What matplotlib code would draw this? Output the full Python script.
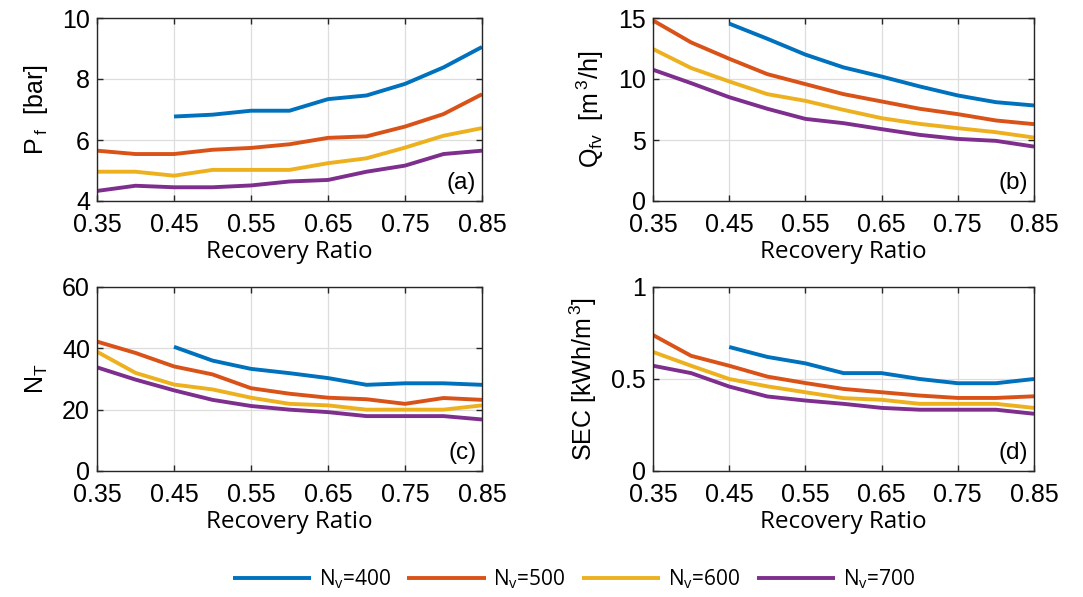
import numpy as np
import matplotlib
matplotlib.use("Agg")
import matplotlib.pyplot as plt

recovery = [0.35, 0.40, 0.45, 0.50, 0.55, 0.60, 0.65, 0.70, 0.75, 0.80, 0.85]
recovery_400 = recovery[2:]
xticks = [0.35, 0.45, 0.55, 0.65, 0.75, 0.85]
xticklabels = ["0.35", "0.45", "0.55", "0.65", "0.75", "0.85"]

labels = ["N$_\\mathregular{v}$=400", "N$_\\mathregular{v}$=500",
          "N$_\\mathregular{v}$=600", "N$_\\mathregular{v}$=700"]
colors = ["#0072BD", "#D95319", "#EDB120", "#7E2F8E"]

# (a) feed pressure [bar]
pf_400 = [6.77, 6.83, 6.96, 6.96, 7.34, 7.46, 7.84, 8.38, 9.05]
pf_500 = [5.65, 5.54, 5.54, 5.68, 5.74, 5.86, 6.07, 6.12, 6.44, 6.85, 7.50]
pf_600 = [4.96, 4.96, 4.83, 5.02, 5.02, 5.02, 5.24, 5.40, 5.75, 6.14, 6.39]
pf_700 = [4.33, 4.50, 4.45, 4.45, 4.51, 4.64, 4.69, 4.96, 5.16, 5.54, 5.65]

# (b) feed flow per vessel [m3/h]
qfv_400 = [14.54, 13.3, 12.0, 10.95, 10.2, 9.39, 8.65, 8.1, 7.83]
qfv_500 = [14.8, 13.0, 11.66, 10.4, 9.58, 8.76, 8.16, 7.56, 7.12, 6.6, 6.3]
qfv_600 = [12.46, 10.9, 9.8, 8.76, 8.21, 7.47, 6.79, 6.32, 5.97, 5.64, 5.2]
qfv_700 = [10.76, 9.66, 8.51, 7.56, 6.73, 6.38, 5.89, 5.42, 5.09, 4.93, 4.46]

# (c) number of trains
nt_400 = [40.5, 36.0, 33.3, 31.9, 30.3, 28.1, 28.6, 28.6, 28.1]
nt_500 = [42.2, 38.5, 34.1, 31.5, 27.0, 25.2, 23.9, 23.4, 21.9, 23.8, 23.2]
nt_600 = [38.9, 32.0, 28.2, 26.6, 23.9, 21.9, 21.4, 20.0, 20.0, 20.0, 21.4]
nt_700 = [33.8, 29.8, 26.3, 23.2, 21.2, 20.0, 19.2, 17.9, 17.9, 17.9, 16.8]

# (d) specific energy consumption [kWh/m3]
sec_400 = [0.674, 0.62, 0.585, 0.532, 0.532, 0.50, 0.477, 0.477, 0.50]
sec_500 = [0.739, 0.626, 0.572, 0.513, 0.478, 0.446, 0.428, 0.41, 0.397, 0.397, 0.406]
sec_600 = [0.647, 0.572, 0.50, 0.46, 0.428, 0.396, 0.387, 0.365, 0.365, 0.365, 0.343]
sec_700 = [0.572, 0.532, 0.459, 0.405, 0.383, 0.365, 0.343, 0.333, 0.333, 0.333, 0.311]

W, H = 1083, 597
fig = plt.figure(figsize=(W / 100, H / 100), dpi=100)

tick_font = "Liberation Sans"
label_font = "Open Sans"

def make_axes(l, r, t, b):
    return fig.add_axes([l / W, 1 - b / H, (r - l) / W, (b - t) / H])

panels = [
    (make_axes(97, 482, 18, 201), [pf_400, pf_500, pf_600, pf_700], (4, 10), [4, 6, 8, 10], ["4", "6", "8", "10"],
     "P$\\,_\\mathregular{f}$  [bar]", "(a)"),
    (make_axes(653, 1034, 18, 201), [qfv_400, qfv_500, qfv_600, qfv_700], (0, 15), [0, 5, 10, 15], ["0", "5", "10", "15"],
     "Q$_\\mathregular{fv}$  [m$^\\mathregular{\\,3}$/h]", "(b)"),
    (make_axes(97, 482, 287, 471), [nt_400, nt_500, nt_600, nt_700], (0, 60), [0, 20, 40, 60], ["0", "20", "40", "60"],
     "N$_\\mathregular{T}$", "(c)"),
    (make_axes(653, 1034, 287, 471), [sec_400, sec_500, sec_600, sec_700], (0, 1), [0, 0.5, 1], ["0", "0.5", "1"],
     "SEC [kWh/m$^\\mathregular{\\,3}$]", "(d)"),
]

handles = []
for ax, series, ylim, yt, ytl, ylabel, tag in panels:
    for i, (vals, c) in enumerate(zip(series, colors)):
        xs = recovery_400 if i == 0 else recovery
        h, = ax.plot(xs, vals, color=c, lw=2.8, solid_capstyle="butt")
        if tag == "(a)":
            handles.append(h)
    ax.set_xlim(0.35, 0.85)
    ax.set_ylim(*ylim)
    ax.set_xticks(xticks)
    ax.set_xticklabels(xticklabels, fontfamily=tick_font, fontsize=18)
    ax.set_yticks(yt)
    ax.set_yticklabels(ytl, fontfamily=tick_font, fontsize=18)
    ax.tick_params(direction="in", length=4, width=1, top=True, right=True,
                   colors="#262626", labelcolor="black")
    ax.tick_params(axis="x", pad=9)
    ax.tick_params(axis="y", pad=5)
    ax.grid(True, color="#dddddd", lw=0.9)
    ax.set_axisbelow(True)
    for s in ax.spines.values():
        s.set_color("#262626")
        s.set_linewidth(1.0)
    ax.set_xlabel("Recovery Ratio", fontfamily=label_font, fontsize=17.5, labelpad=2)
    ax.set_ylabel(ylabel, fontfamily=tick_font, fontsize=18, labelpad=9)
    ax.text(0.985, 0.04, tag, transform=ax.transAxes, ha="right", va="bottom",
            fontfamily=tick_font, fontsize=17.5)

leg = fig.legend(handles, labels, loc="center", bbox_to_anchor=(574 / W, 1 - 579 / H),
                 ncol=4, frameon=False, handlelength=3.75, handletextpad=0.38,
                 columnspacing=0.77, prop={"family": label_font, "size": 15})
for line in leg.get_lines():
    line.set_linewidth(2.8)

fig.savefig("out.png", dpi=100)
